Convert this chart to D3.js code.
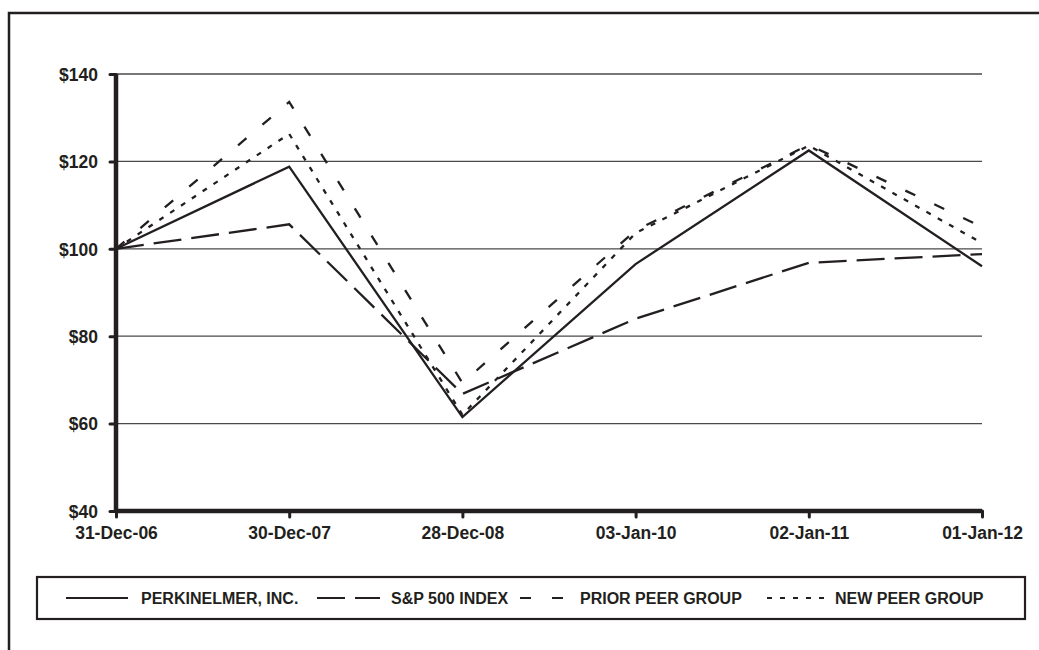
<!DOCTYPE html>
<html>
<head>
<meta charset="utf-8">
<script src="https://cdn.jsdelivr.net/npm/d3@7"></script>
<style>
  html, body { margin: 0; padding: 0; background: #fff; }
  svg { display: block; }
  text { font-family: "Liberation Sans", Arial, sans-serif; font-weight: bold; fill: #231f20; }
</style>
</head>
<body>
<svg id="chart" width="1039" height="650"></svg>
<script>
// ---- data ----
const categories = ["31-Dec-06", "30-Dec-07", "28-Dec-08", "03-Jan-10", "02-Jan-11", "01-Jan-12"];
const perkinElmer = [100, 118.8, 61.5, 96.5, 122.5, 96.0];
const sp500 = [100, 105.6, 66.8, 84.0, 96.8, 98.8];
const priorPeer = [100, 133.6, 69.3, 104.2, 123.8, 105.0];
const newPeer = [100, 126.3, 62.0, 103.6, 123.6, 101.3];
const yTicks = [40, 60, 80, 100, 120, 140];
const seriesNames = ["PERKINELMER, INC.", "S&P 500 INDEX", "PRIOR PEER GROUP", "NEW PEER GROUP"];

// ---- styles / layout ----
const ink = "#231f20";
const seriesStyle = [
  { values: perkinElmer, dash: null },
  { values: sp500, dash: "28,10" },
  { values: priorPeer, dash: "11,21" },
  { values: newPeer, dash: "5,8" }
];
const legendLayout = [
  { x0: 66, x1: 128, tx: 141 },
  { x0: 317, x1: 380, tx: 391 },
  { x0: 520, x1: 577, tx: 580 },
  { x0: 767, x1: 825, tx: 835 }
];

const svg = d3.select("#chart");

// outer frame (open to the right and bottom)
svg.append("path")
  .attr("d", "M9,660 L9,13 L1050,13")
  .attr("fill", "none").attr("stroke", ink).attr("stroke-width", 2.5);

const x = d3.scalePoint().domain(categories).range([116, 982]);
const y = d3.scaleLinear().domain([40, 140]).range([511, 74]);

// gridlines
svg.append("g")
  .selectAll("line")
  .data(yTicks.filter(t => t > 40))
  .join("line")
  .attr("x1", 116).attr("x2", 982)
  .attr("y1", d => y(d)).attr("y2", d => y(d))
  .attr("stroke", "#4a4a4a").attr("stroke-width", 1.3);

// y axis
const yAxis = svg.append("g")
  .attr("transform", "translate(116,0)")
  .call(d3.axisLeft(y).tickValues(yTicks).tickSize(6).tickPadding(12).tickFormat(d => "$" + d));
yAxis.select(".domain").attr("stroke", ink).attr("stroke-width", 4.5).attr("d", `M0,${y(40)}V${y(140)}`);
yAxis.selectAll(".tick line").attr("stroke", ink).attr("stroke-width", 3).attr("stroke-linecap", "round");
yAxis.selectAll(".tick text").attr("font-size", 17.5).attr("fill", ink).attr("dy", "0.36em").attr("y", 0);

// x axis
const xAxis = svg.append("g")
  .attr("transform", `translate(0,${y(40)})`)
  .call(d3.axisBottom(x).tickSize(6).tickPadding(10));
xAxis.select(".domain").attr("stroke", ink).attr("stroke-width", 4.5).attr("d", `M${x.range()[0]},0H${x.range()[1]}`);
xAxis.selectAll(".tick line").attr("stroke", ink).attr("stroke-width", 3).attr("stroke-linecap", "round");
xAxis.selectAll(".tick text").attr("font-size", 17.5).attr("fill", ink);

// series lines
const line = d3.line().x((d, i) => x(categories[i])).y(d => y(d));
svg.append("g")
  .selectAll("path")
  .data(seriesStyle)
  .join("path")
  .attr("d", d => line(d.values))
  .attr("fill", "none")
  .attr("stroke", ink)
  .attr("stroke-width", 2.3)
  .attr("stroke-dasharray", d => d.dash);

// legend
svg.append("rect")
  .attr("x", 37).attr("y", 577).attr("width", 988).attr("height", 42)
  .attr("fill", "none").attr("stroke", ink).attr("stroke-width", 2.2);

const leg = svg.append("g").selectAll("g")
  .data(seriesNames)
  .join("g");
leg.append("line")
  .attr("x1", (d, i) => legendLayout[i].x0)
  .attr("x2", (d, i) => legendLayout[i].x1)
  .attr("y1", 598).attr("y2", 598)
  .attr("stroke", ink).attr("stroke-width", 2.2)
  .attr("stroke-dasharray", (d, i) => seriesStyle[i].dash);
leg.append("text")
  .attr("x", (d, i) => legendLayout[i].tx)
  .attr("y", 598).attr("dy", "0.36em")
  .attr("font-size", 16)
  .text(d => d);
</script>
</body>
</html>
